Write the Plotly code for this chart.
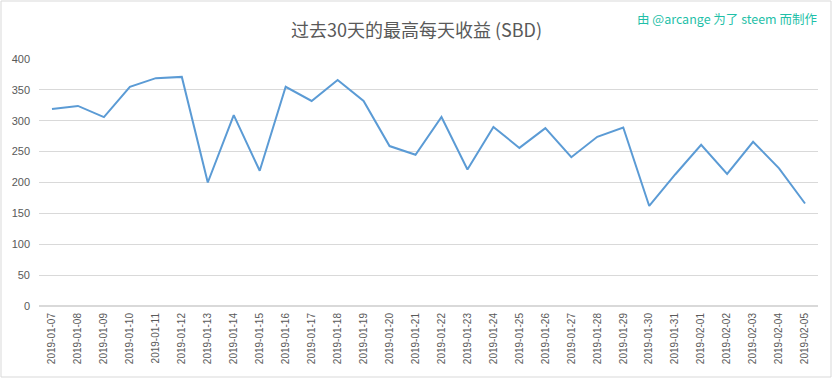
import plotly.graph_objects as go

dates = ["2019-01-07", "2019-01-08", "2019-01-09", "2019-01-10", "2019-01-11", "2019-01-12",
         "2019-01-13", "2019-01-14", "2019-01-15", "2019-01-16", "2019-01-17", "2019-01-18",
         "2019-01-19", "2019-01-20", "2019-01-21", "2019-01-22", "2019-01-23", "2019-01-24",
         "2019-01-25", "2019-01-26", "2019-01-27", "2019-01-28", "2019-01-29", "2019-01-30",
         "2019-01-31", "2019-02-01", "2019-02-02", "2019-02-03", "2019-02-04", "2019-02-05"]
values = [319, 324, 306, 355, 369, 371, 200, 309, 219, 355, 332, 366, 332, 259, 245,
          306, 221, 290, 256, 288, 241, 274, 289, 162, 213, 261, 214, 266, 223, 166]
y_ticks = [0, 50, 100, 150, 200, 250, 300, 350, 400]

title_text = "过去30天的最高每天收益 (SBD)"
credit_text = "由 @arcange 为了 steem 而制作"

W, H = 833, 379
ml, mr, mt, mb = 39, 15, 59, 73
pw, ph = W - ml - mr, H - mt - mb

fig = go.Figure()
fig.add_trace(go.Scatter(x=dates, y=values, mode="lines",
                         line=dict(color="#5b9bd5", width=2), hoverinfo="x+y"))

fig.update_layout(
    width=W, height=H,
    margin=dict(l=ml, r=mr, t=mt, b=mb, autoexpand=False),
    paper_bgcolor="white", plot_bgcolor="white",
    showlegend=False,
    font=dict(family="Liberation Sans, DejaVu Sans, sans-serif", color="#595959"),
    title=dict(text=title_text, x=0.5, xref="container", xanchor="center",
               y=1 - 31 / H, yanchor="middle",
               font=dict(family="Noto Sans CJK SC", size=18, color="#595959"),
               automargin=False),
    xaxis=dict(type="category", range=[-0.5, len(dates) - 0.5], tickangle=-90,
               showgrid=False, showline=False, automargin=False,
               ticks="", tickfont=dict(size=10, color="#595959"), zeroline=False,
               ticklabelstandoff=4),
    yaxis=dict(range=[0, 400], tickvals=y_ticks, showgrid=True, gridcolor="#d9d9d9",
               gridwidth=1, zeroline=True, zerolinecolor="#d9d9d9", showline=False,
               automargin=False, ticklabelstandoff=8,
               ticks="", tickfont=dict(size=11, color="#595959")),
)

fig.add_annotation(text=credit_text, xref="paper", yref="paper",
                   x=(819 - ml) / pw, y=1 + (mt - 18) / ph, xanchor="right", yanchor="middle",
                   showarrow=False,
                   font=dict(family="Noto Sans CJK SC", size=12.5, color="#1fbfa8"))

# outer chart border
fig.add_shape(type="rect", xref="paper", yref="paper",
              x0=(1 - ml) / pw, x1=(W - 2 - ml) / pw,
              y0=-(mb - 2) / ph, y1=1 + (mt - 1) / ph,
              line=dict(color="#d9d9d9", width=1), fillcolor="rgba(0,0,0,0)", layer="above")

fig.write_html("out.html", config={"displayModeBar": False},
               post_script="document.body.style.margin='0';document.body.style.overflow='hidden';")
